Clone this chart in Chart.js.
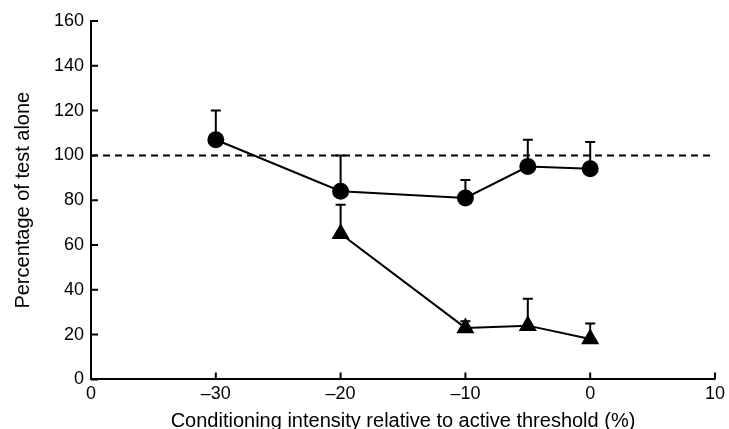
<!DOCTYPE html>
<html>
<head>
<meta charset="utf-8">
<script src="https://cdn.jsdelivr.net/npm/chart.js@4/dist/chart.umd.min.js"></script>
<style>
  html, body { margin: 0; padding: 0; background: #fff; }
  #wrap { width: 729px; height: 429px; }
</style>
</head>
<body>
<div id="wrap"><canvas id="chart"></canvas></div>
<script>
// x positions are conditioning intensity relative to active threshold (%)
const xTickValues = [-40, -30, -20, -10, 0, 10];
const xTickLabels = ['0', '\u201330', '\u201320', '\u201310', '0', '10'];
const yTickValues = [0, 20, 40, 60, 80, 100, 120, 140, 160];

const circleX = [-30, -20, -10, -5, 0];
const circleValues = [107, 84, 81, 95, 94];
const circleErrors = [13, 16, 8, 12, 12];

const triangleX = [-20, -10, -5, 0];
const triangleValues = [65, 23, 24, 18];
const triangleErrors = [13, 3, 12, 7];

const referenceX = [-40, 10];
const referenceValues = [100, 100];

const toPoints = (xs, ys) => xs.map((x, i) => ({ x: x, y: ys[i] }));

// upward-only error bars with a cap
const errorBars = {
  id: 'errorBars',
  afterDatasetsDraw(chart) {
    const { ctx, scales: { x, y } } = chart;
    ctx.save();
    ctx.strokeStyle = '#000';
    ctx.lineWidth = 2;
    chart.data.datasets.forEach((ds) => {
      if (!ds.errors) return;
      ds.data.forEach((p, i) => {
        const px = x.getPixelForValue(p.x);
        const py = y.getPixelForValue(p.y);
        const top = y.getPixelForValue(p.y + ds.errors[i]);
        ctx.beginPath();
        ctx.moveTo(px, py);
        ctx.lineTo(px, top);
        ctx.moveTo(px - 5, top);
        ctx.lineTo(px + 5, top);
        ctx.stroke();
      });
    });
    ctx.restore();
  }
};

// tick marks pointing into the plot area
const innerTicks = {
  id: 'innerTicks',
  afterDraw(chart) {
    const { ctx, chartArea, scales: { x, y } } = chart;
    ctx.save();
    ctx.strokeStyle = '#000';
    ctx.lineWidth = 2;
    ctx.beginPath();
    xTickValues.forEach((v) => {
      const px = x.getPixelForValue(v);
      ctx.moveTo(px, chartArea.bottom);
      ctx.lineTo(px, chartArea.bottom - 7);
    });
    yTickValues.forEach((v) => {
      const py = y.getPixelForValue(v);
      ctx.moveTo(chartArea.left, py);
      ctx.lineTo(chartArea.left + 7, py);
    });
    ctx.stroke();
    ctx.restore();
  }
};

const tickFont = { family: '"Liberation Sans", Arial, sans-serif', size: 18 };
const titleFont = { family: '"Liberation Sans", Arial, sans-serif', size: 20 };

new Chart(document.getElementById('chart').getContext('2d'), {
  type: 'scatter',
  data: {
    datasets: [
      {
        label: 'Test alone',
        data: toPoints(referenceX, referenceValues),
        showLine: true,
        borderColor: '#000',
        borderWidth: 2,
        borderDash: [7, 5],
        pointRadius: 0
      },
      {
        label: 'Circles',
        data: toPoints(circleX, circleValues),
        errors: circleErrors,
        showLine: true,
        borderColor: '#000',
        borderWidth: 2,
        pointStyle: 'circle',
        pointRadius: 7.5,
        pointBackgroundColor: '#000',
        pointBorderColor: '#000'
      },
      {
        label: 'Triangles',
        data: toPoints(triangleX, triangleValues),
        errors: triangleErrors,
        showLine: true,
        borderColor: '#000',
        borderWidth: 2,
        pointStyle: 'triangle',
        pointRadius: 8.5,
        pointBackgroundColor: '#000',
        pointBorderColor: '#000'
      }
    ]
  },
  options: {
    responsive: true,
    maintainAspectRatio: false,
    animation: false,
    layout: { padding: { top: 21, right: 4, bottom: 1, left: 0 } },
    plugins: {
      legend: { display: false },
      tooltip: { enabled: false }
    },
    scales: {
      x: {
        type: 'linear',
        min: -40,
        max: 10,
        afterBuildTicks: (axis) => { axis.ticks = xTickValues.map((v) => ({ value: v })); },
        ticks: {
          color: '#000',
          font: tickFont,
          padding: 4,
          maxRotation: 0,
          callback: (value, index) => xTickLabels[index]
        },
        grid: { drawOnChartArea: false, drawTicks: false },
        border: { display: true, color: '#000', width: 2 },
        title: {
          display: true,
          text: 'Conditioning intensity relative to active threshold (%)',
          color: '#000',
          font: titleFont,
          padding: { top: 0, bottom: -5 }
        }
      },
      y: {
        min: 0,
        max: 160,
        afterBuildTicks: (axis) => { axis.ticks = yTickValues.map((v) => ({ value: v })); },
        ticks: { color: '#000', font: tickFont, padding: 7 },
        grid: { drawOnChartArea: false, drawTicks: false },
        border: { display: true, color: '#000', width: 2 },
        title: {
          display: true,
          text: 'Percentage of test alone',
          color: '#000',
          font: titleFont,
          padding: { top: 11, bottom: 12 }
        }
      }
    }
  },
  plugins: [errorBars, innerTicks]
});
</script>
</body>
</html>
